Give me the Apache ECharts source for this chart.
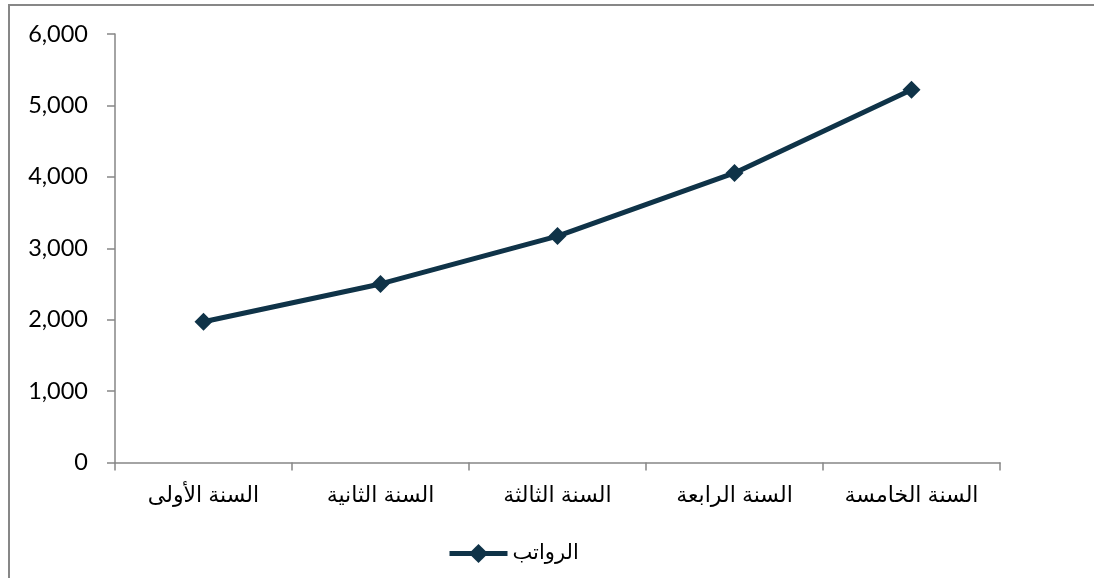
<!DOCTYPE html>
<html>
<head>
<meta charset="utf-8">
<script src="https://cdn.jsdelivr.net/npm/echarts@6/dist/echarts.min.js"></script>
<style>
html,body{margin:0;padding:0;background:#fff;}
#c{width:1094px;height:578px;}
</style>
</head>
<body>
<div id="c"></div>
<script>
const categories = ['السنة الأولى', 'السنة الثانية', 'السنة الثالثة', 'السنة الرابعة', 'السنة الخامسة'];
const seriesName = 'الرواتب';
const salaries = [1970, 2500, 3170, 4055, 5220];
const yTicks = { min: 0, max: 6000, interval: 1000 };

const chart = echarts.init(document.getElementById('c'), null, { renderer: 'canvas' });
chart.setOption({
  animation: false,
  backgroundColor: '#ffffff',
  graphic: [{
    type: 'rect',
    shape: { x: 9, y: 5, width: 1200, height: 700 },
    style: { fill: 'none', stroke: '#878787', lineWidth: 2 },
    silent: true
  }],
  grid: { left: 115, right: 94, top: 34, bottom: 115.5, containLabel: false },
  legend: {
    bottom: 9,
    left: 442,
    itemWidth: 58,
    itemHeight: 24,
    itemGap: 5,
    lineStyle: { width: 5 },
    textStyle: { fontFamily: 'DejaVu Sans, Liberation Sans, sans-serif', fontSize: 21, color: '#000' },
    data: [seriesName]
  },
  xAxis: {
    type: 'category',
    data: categories,
    boundaryGap: true,
    axisLine: { lineStyle: { color: '#868686', width: 1.5 } },
    axisTick: { show: true, length: 8, lineStyle: { color: '#868686', width: 1.5 } },
    axisLabel: { margin: 22, color: '#000', fontSize: 22, fontFamily: 'Liberation Sans, DejaVu Sans, sans-serif' },
    splitLine: { show: false }
  },
  yAxis: {
    type: 'value',
    min: yTicks.min, max: yTicks.max, interval: yTicks.interval,
    axisLine: { show: true, lineStyle: { color: '#868686', width: 1.5 } },
    axisTick: { show: true, length: 8, lineStyle: { color: '#868686', width: 1.5 } },
    axisLabel: {
      margin: 27, color: '#000', fontSize: 23.5, fontFamily: 'Lato, Open Sans, sans-serif',
      formatter: v => v.toLocaleString('en-US')
    },
    splitLine: { show: false }
  },
  series: [{
    name: seriesName,
    type: 'line',
    data: salaries,
    symbol: 'diamond',
    symbolSize: 18,
    lineStyle: { color: '#0f3348', width: 5 },
    itemStyle: { color: '#0f3348' }
  }]
});
</script>
</body>
</html>
